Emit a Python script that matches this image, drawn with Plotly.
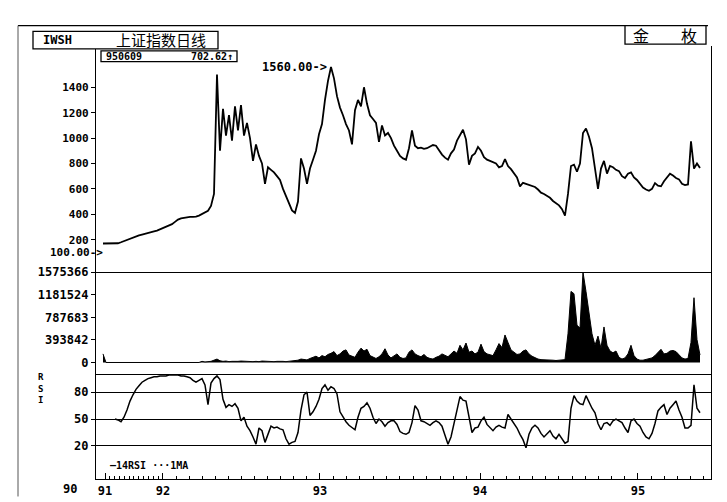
import plotly.graph_objects as go

# daily bars sampled every few sessions (index = bar number), Dec 1990 .. 9 Jun 1995
price = [170, 170, 168, 170, 172, 172, 180, 190, 200, 210,
         218, 226, 234, 240, 248, 254, 260, 266, 272, 282,
         292, 302, 310, 322, 340, 358, 368, 374, 378, 380,
         380, 382, 390, 402, 412, 428, 466, 560, 1500, 900,
         1230, 1020, 1180, 980, 1250, 1060, 1260, 1020, 1120, 1000,
         820, 950, 860, 800, 640, 770, 750, 730, 700, 670,
         600, 540, 490, 430, 410, 500, 840, 760, 640, 760,
         830, 900, 1030, 1110, 1300, 1450, 1560, 1470, 1330, 1240,
         1180, 1110, 1060, 950, 1220, 1300, 1250, 1400, 1270, 1180,
         1150, 1120, 970, 1100, 1020, 1040, 1000, 940, 900, 860,
         840, 830, 920, 1060, 940, 920, 925, 915, 920, 930,
         945, 940, 900, 870, 846, 830, 880, 910, 980, 1020,
         1066, 990, 790, 860, 880, 930, 900, 850, 830, 820,
         810, 800, 770, 780, 835, 780, 755, 725, 690, 620,
         648, 640, 630, 625, 615, 595, 570, 560, 545, 530,
         505, 490, 470, 440, 390, 560, 780, 790, 735, 800,
         1040, 1075, 1010, 920, 770, 600, 760, 820, 720, 780,
         770, 750, 740, 700, 686, 720, 730, 690, 670, 640,
         610, 595, 585, 600, 645, 625, 620, 660, 690, 720,
         705, 686, 675, 640, 630, 635, 975, 760, 800, 765]

volume = [150000, 0, 0, 0, 0, 0, 0, 0, 0, 0,
          0, 0, 0, 0, 0, 0, 0, 0, 0, 0,
          0, 0, 0, 0, 0, 0, 0, 0, 0, 0,
          0, 0, 0, 20000, 10000, 15000, 20000, 40000, 60000, 30000,
          20000, 25000, 15000, 20000, 15000, 20000, 25000, 20000, 15000, 20000,
          15000, 20000, 15000, 25000, 20000, 15000, 20000, 15000, 20000, 25000,
          20000, 15000, 20000, 25000, 30000, 40000, 60000, 50000, 45000, 70000,
          90000, 110000, 80000, 120000, 100000, 140000, 160000, 190000, 120000, 150000,
          200000, 220000, 130000, 110000, 90000, 180000, 250000, 200000, 230000, 120000,
          90000, 70000, 100000, 150000, 240000, 130000, 80000, 110000, 150000, 90000,
          70000, 80000, 180000, 220000, 150000, 120000, 100000, 140000, 90000, 70000,
          60000, 90000, 110000, 150000, 120000, 100000, 150000, 200000, 160000, 300000,
          220000, 340000, 180000, 200000, 150000, 180000, 320000, 190000, 150000, 140000,
          120000, 220000, 330000, 260000, 480000, 350000, 220000, 180000, 140000, 150000,
          200000, 220000, 150000, 110000, 80000, 60000, 50000, 50000, 45000, 40000,
          40000, 35000, 40000, 35000, 50000, 500000, 1240000, 1200000, 650000, 600000,
          1575366, 1240000, 850000, 500000, 300000, 460000, 250000, 620000, 300000, 200000,
          170000, 200000, 90000, 60000, 80000, 150000, 300000, 120000, 60000, 40000,
          40000, 50000, 60000, 80000, 120000, 180000, 230000, 150000, 160000, 200000,
          210000, 190000, 130000, 80000, 60000, 70000, 350000, 1130000, 400000, 130000]

rsi = [None, None, None, None, 50, 49, 47, 52, 60, 70,
       77, 83, 87, 91, 93, 95, 96, 97, 97, 98,
       98, 98, 99, 99, 99, 99, 98, 98, 97, 96,
       93, 91, 93, 95, 88, 66, 90, 95, 98, 94,
       72, 63, 66, 64, 67, 62, 48, 52, 42, 37,
       30, 22, 40, 37, 24, 32, 42, 40, 41, 39,
       38, 28, 22, 24, 25, 35, 60, 77, 80, 54,
       58, 64, 72, 84, 88, 82, 86, 84, 78, 58,
       52, 47, 43, 40, 38, 52, 62, 64, 68, 62,
       52, 45, 50, 47, 42, 46, 48, 48, 44, 36,
       34, 33, 35, 46, 65, 60, 48, 47, 45, 43,
       46, 48, 46, 42, 32, 22, 30, 47, 60, 75,
       71, 70, 50, 35, 40, 41, 48, 52, 44, 41,
       37, 41, 43, 41, 40, 55, 50, 45, 40, 33,
       27, 18, 33, 40, 43, 40, 34, 30, 34, 37,
       31, 28, 33, 28, 23, 25, 62, 76, 70, 67,
       66, 76, 68, 62, 57, 45, 38, 45, 46, 43,
       48, 50, 48, 46, 40, 35, 48, 50, 45, 42,
       35, 30, 28, 34, 45, 59, 63, 66, 55, 62,
       66, 70, 60, 52, 40, 40, 43, 88, 62, 57]

year_labels = ["91", "92", "93", "94", "95"]
year_pos = [0.67, 20, 72.3, 125.7, 178.3]

price_ticks = [200, 400, 600, 800, 1000, 1200, 1400]
vol_ticks = [0, 393842, 787683, 1181524, 1575366]
rsi_ticks = [20, 50, 80]

x = list(range(len(price)))

# monthly minor ticks between the year marks
minor = []
for a, b in zip(year_pos[:-1], year_pos[1:]):
    minor += [a + (b - a) * k / 12 for k in range(1, 12)]
step = (year_pos[-1] - year_pos[-2]) / 12
minor += [year_pos[-1] + step * k for k in range(1, 6)]

MONO = "DejaVu Sans Mono"
CJK = "Noto Sans CJK SC"


def xp(p):
    return (p - 88) / 615


def yp(p):
    return (484 - p) / 446


fig = go.Figure()
fig.add_trace(go.Scatter(x=x, y=price, mode="lines", line=dict(color="black", width=1.8),
                         xaxis="x", yaxis="y"))
fig.add_trace(go.Scatter(x=x, y=volume, mode="lines", fill="tozeroy", fillcolor="black",
                         line=dict(color="black", width=1), xaxis="x2", yaxis="y2"))
fig.add_trace(go.Scatter(x=x, y=rsi, mode="lines", line=dict(color="black", width=1.5),
                         xaxis="x3", yaxis="y3"))

xrange = [-2.33, 202.67]
ax_common = dict(showline=True, linecolor="black", linewidth=1.3, showgrid=False,
                 zeroline=False, color="black")

fig.update_layout(
    width=727, height=502,
    margin=dict(l=88, r=24, t=38, b=18),
    paper_bgcolor="white", plot_bgcolor="white",
    showlegend=False,
    font=dict(family=MONO, color="black", size=11, weight="bold"),
    xaxis=dict(domain=[0, 1], anchor="y", range=xrange, showticklabels=False,
               ticks="", **ax_common),
    yaxis=dict(domain=[0.4776, 1], anchor="x", range=[-56, 1725], mirror=True,
               tickmode="array", tickvals=price_ticks, ticks="outside", ticklen=4,
               tickfont=dict(family=MONO, size=11, weight="bold"), **ax_common),
    xaxis2=dict(domain=[0, 1], anchor="y2", range=xrange, matches="x",
                showticklabels=False, ticks="", **ax_common),
    yaxis2=dict(domain=[0.2422, 0.4776], anchor="x2", range=[-203000, 1575366],
                mirror=True, tickmode="array", tickvals=vol_ticks,
                ticktext=[str(v) for v in vol_ticks], ticks="outside", ticklen=4,
                tickfont=dict(family=MONO, size=12, weight="bold"), **ax_common),
    xaxis3=dict(domain=[0, 1], anchor="y3", range=xrange, matches="x",
                tickmode="array", tickvals=year_pos, ticktext=year_labels,
                ticks="inside", ticklen=6, tickwidth=1.3,
                minor=dict(tickvals=minor, ticks="inside", ticklen=3, tickwidth=1),
                tickfont=dict(family=MONO, size=12, weight="bold"), **ax_common),
    yaxis3=dict(domain=[0, 0.2422], anchor="x3", range=[-16.8, 100], mirror=True,
                tickmode="array", tickvals=rsi_ticks, ticks="outside", ticklen=4,
                tickfont=dict(family=MONO, size=12, weight="bold"),
                showline=True, linecolor="black", linewidth=1.3, zeroline=False,
                showgrid=True, gridcolor="black", gridwidth=1.1, color="black"),
)

# outer frame and header boxes
line = dict(color="black", width=1.3)
fig.add_shape(type="line", xref="paper", yref="paper", x0=xp(10), x1=xp(700),
              y0=yp(17), y1=yp(17), line=line)
fig.add_shape(type="line", xref="paper", yref="paper", x0=xp(10), x1=xp(10),
              y0=yp(17), y1=yp(502), line=dict(color="#555", width=1))
fig.add_shape(type="rect", xref="paper", yref="paper", x0=xp(25), x1=xp(210),
              y0=yp(41), y1=yp(23), line=line, fillcolor="white")
fig.add_shape(type="rect", xref="paper", yref="paper", x0=xp(93), x1=xp(229),
              y0=yp(54), y1=yp(43), line=line, fillcolor="white")
fig.add_shape(type="rect", xref="paper", yref="paper", x0=xp(617), x1=xp(698),
              y0=yp(36), y1=yp(17), line=line, fillcolor="white")

ann = [
    dict(text="IWSH", x=xp(49), y=yp(32), font=dict(size=12)),
    dict(text="上证指数日线", x=xp(153), y=yp(31.5),
         font=dict(family=CJK, size=15, weight="normal")),
    dict(text="950609", x=xp(96), y=yp(49), xanchor="left", font=dict(size=10)),
    dict(text="702.62↑", x=xp(227), y=yp(49), xanchor="right", font=dict(size=10)),
    dict(text="金　　枚", x=xp(657), y=yp(27),
         font=dict(family=CJK, size=16, weight="normal")),
    dict(text="100.00->", x=xp(97), xanchor="right", yref="y", y=100, font=dict(size=11)),
    dict(text="R<br>S<br>I", x=xp(33), y=yp(391), font=dict(size=9)),
    dict(text="—14RSI ···1MA", x=xp(100), y=yp(470), xanchor="left", font=dict(size=10)),
    dict(text="90", x=xp(62), y=yp(494), font=dict(size=12)),
]
for a in ann:
    a.setdefault("xref", "paper")
    a.setdefault("yref", "paper")
    a.setdefault("xanchor", "center")
    a.setdefault("yanchor", "middle")
    fig.add_annotation(showarrow=False, **a)

peak = price.index(max(price))
fig.add_annotation(text="1560.00->", x=peak, y=max(price), xref="x", yref="y",
                   xanchor="right", yanchor="middle", xshift=-2, showarrow=False,
                   font=dict(size=12))

fig.write_html("out.html")
